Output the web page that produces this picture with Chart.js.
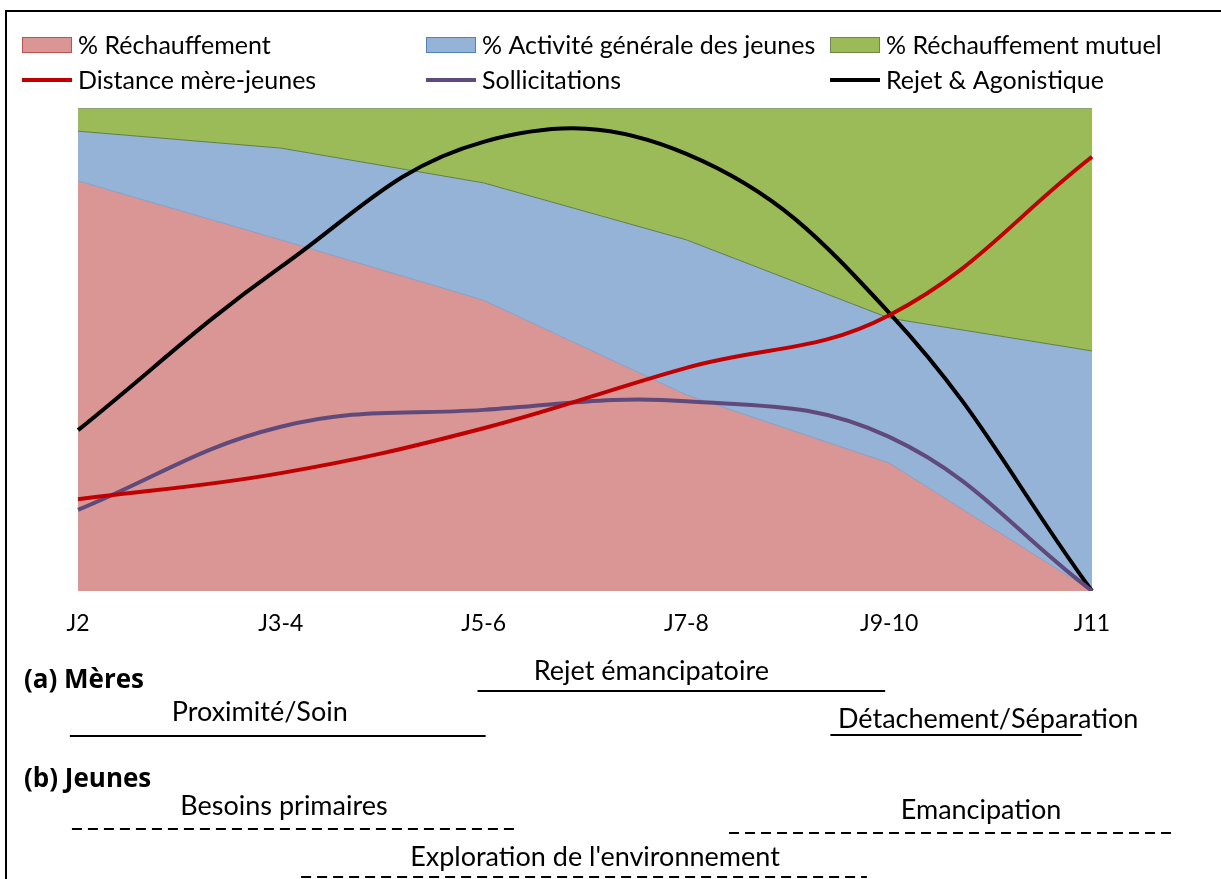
<!DOCTYPE html>
<html lang="fr">
<head>
<meta charset="utf-8">
<title>Réchauffement, activité et émancipation des jeunes</title>
<script src="https://cdn.jsdelivr.net/npm/chart.js@4.4.1/dist/chart.umd.min.js"></script>
<style>
  html, body { margin: 0; padding: 0; background: #fff; overflow: hidden; }
  #cadre { position: relative; width: 1221px; height: 879px; }
</style>
</head>
<body>
<div id="cadre"><canvas id="graphique" width="1221" height="879"></canvas></div>
<script>
// Périodes (jours)
const periodes = ['J2', 'J3-4', 'J5-6', 'J7-8', 'J9-10', 'J11'];

// Aires empilées, en % du temps
const rechauffement = [84.9, 72.7, 60.2, 40.6, 26.5, 0];
const activiteJeunes = [10.3, 19.0, 24.3, 32.1, 30.0, 49.7];
const rechauffementMutuel = [4.8, 8.3, 15.5, 27.3, 43.5, 50.3];

// Courbes (échelle relative 0-100)
const distanceMereJeunes = [19.0, 24.4, 33.7, 46.2, 57.1, 89.9];
const sollicitations = [16.8, 34.0, 37.5, 39.3, 31.9, 0];
const rejetAgonistique = [33.3, 67.1, 93.0, 90.5, 57.6, 0];

// Phases comportementales : début et fin en rang de période
const phasesMeres = [
    { label: 'Rejet émancipatoire', debut: 1.97, fin: 3.98 },
    { label: 'Proximité/Soin', debut: -0.04, fin: 2.01 },
    { label: 'Détachement/Séparation', debut: 3.71, fin: 4.95 }
];
const phasesJeunes = [
    { label: 'Besoins primaires', debut: -0.03, fin: 2.16 },
    { label: 'Emancipation', debut: 3.21, fin: 5.39 },
    { label: "Exploration de l'environnement", debut: 1.10, fin: 3.89 }
];

const POLICE = 'Lato';

// Légende sur 3 colonnes, cadre et phases sous l'axe
const decorPlugin = {
    id: 'decor',
    afterDraw(chart) {
        const { ctx } = chart;
        const x = chart.scales.x;
        ctx.save();

        // cadre extérieur
        ctx.strokeStyle = '#000';
        ctx.lineWidth = 2;
        ctx.beginPath();
        ctx.moveTo(6, 880);
        ctx.lineTo(6, 11);
        ctx.lineTo(1222, 11);
        ctx.stroke();

        // légende
        ctx.font = '25px ' + POLICE;
        ctx.textBaseline = 'middle';
        ctx.textAlign = 'left';
        chart.data.datasets.forEach((ds, i) => {
            const lx = 22 + (i % 3) * 404;
            const ly = 45 + Math.floor(i / 3) * 35;
            if (ds.fill) {
                ctx.fillStyle = ds.backgroundColor;
                ctx.fillRect(lx, ly - 8, 50, 16);
                ctx.strokeStyle = ds.couleurCadre;
                ctx.lineWidth = 1;
                ctx.strokeRect(lx + 0.5, ly - 7.5, 49, 15);
            } else {
                ctx.strokeStyle = ds.borderColor;
                ctx.lineWidth = 4;
                ctx.beginPath();
                ctx.moveTo(lx, ly);
                ctx.lineTo(lx + 50, ly);
                ctx.stroke();
            }
            ctx.fillStyle = '#000';
            ctx.fillText(ds.label, lx + 56, ly + 1);
        });

        // titres des groupes
        ctx.font = 'bold 26px "Open Sans"';
        ctx.fillText('(a) Mères', 24, 681);
        ctx.fillText('(b) Jeunes', 24, 780);

        // phases : position du texte, du trait et décalage du texte
        const dessinerPhases = (phases, placement, pointille) => {
            phases.forEach((p, i) => {
                const pl = placement[i];
                const x0 = x.getPixelForValue(p.debut);
                const x1 = x.getPixelForValue(p.fin);
                ctx.font = '27px ' + POLICE;
                ctx.textAlign = 'center';
                ctx.fillStyle = '#000';
                ctx.fillText(p.label, (x0 + x1) / 2 + pl.decalage, pl.texte);
                ctx.strokeStyle = '#000';
                ctx.lineWidth = 2;
                ctx.setLineDash(pointille ? [10, 6] : []);
                ctx.beginPath();
                ctx.moveTo(x0, pl.trait);
                ctx.lineTo(x1, pl.trait);
                ctx.stroke();
            });
            ctx.setLineDash([]);
        };
        dessinerPhases(phasesMeres, [
            { texte: 671, trait: 691, decalage: -30 },
            { texte: 712, trait: 736, decalage: -18 },
            { texte: 719, trait: 735, decalage: 32 }
        ], false);
        dessinerPhases(phasesJeunes, [
            { texte: 806, trait: 829, decalage: -10 },
            { texte: 810, trait: 833, decalage: 31 },
            { texte: 857, trait: 877, decalage: 11 }
        ], true);

        ctx.restore();
    }
};

const ctx = document.getElementById('graphique').getContext('2d');
const chart = new Chart(ctx, {
    type: 'line',
    data: {
        labels: periodes,
        datasets: [
            {
                label: '% Réchauffement',
                data: rechauffement,
                fill: 'origin',
                backgroundColor: '#D99694',
                borderColor: '#7FA0CC',
                couleurCadre: '#C0504D',
                borderWidth: 1,
                tension: 0,
                pointRadius: 0,
                yAxisID: 'y',
                order: 1
            },
            {
                label: '% Activité générale des jeunes',
                data: activiteJeunes,
                fill: '-1',
                backgroundColor: '#95B3D7',
                borderColor: '#5E7F3A',
                couleurCadre: '#4F81BD',
                borderWidth: 1,
                tension: 0,
                pointRadius: 0,
                yAxisID: 'y',
                order: 1
            },
            {
                label: '% Réchauffement mutuel',
                data: rechauffementMutuel,
                fill: '-1',
                backgroundColor: '#9BBB59',
                borderColor: '#8A9A7A',
                couleurCadre: '#71893F',
                borderWidth: 1.5,
                tension: 0,
                pointRadius: 0,
                yAxisID: 'y',
                order: 1
            },
            {
                label: 'Distance mère-jeunes',
                data: distanceMereJeunes,
                fill: false,
                borderColor: '#C00000',
                borderWidth: 4,
                tension: 0.4,
                pointRadius: 0,
                yAxisID: 'y2',
                order: 0
            },
            {
                label: 'Sollicitations',
                data: sollicitations,
                fill: false,
                borderColor: '#604A7B',
                borderWidth: 4,
                tension: 0.4,
                pointRadius: 0,
                yAxisID: 'y2',
                order: 0
            },
            {
                label: 'Rejet & Agonistique',
                data: rejetAgonistique,
                fill: false,
                borderColor: '#000000',
                borderWidth: 4,
                tension: 0.4,
                pointRadius: 0,
                yAxisID: 'y2',
                order: 0
            }
        ]
    },
    options: {
        responsive: false,
        animation: false,
        layout: {
            padding: { top: 108, left: 78, right: 129, bottom: 0 }
        },
        scales: {
            x: {
                grid: { display: false },
                border: { display: false },
                ticks: {
                    color: '#000',
                    font: { family: POLICE, size: 23 },
                    padding: 11,
                    maxRotation: 0
                },
                afterFit(scale) {
                    scale.height = 288;
                }
            },
            y: {
                display: false,
                stacked: true,
                min: 0,
                max: 100
            },
            y2: {
                display: false,
                stacked: false,
                min: 0,
                max: 100
            }
        },
        plugins: {
            legend: { display: false },
            tooltip: { enabled: false },
            title: { display: false }
        }
    },
    plugins: [decorPlugin]
});
</script>
</body>
</html>
